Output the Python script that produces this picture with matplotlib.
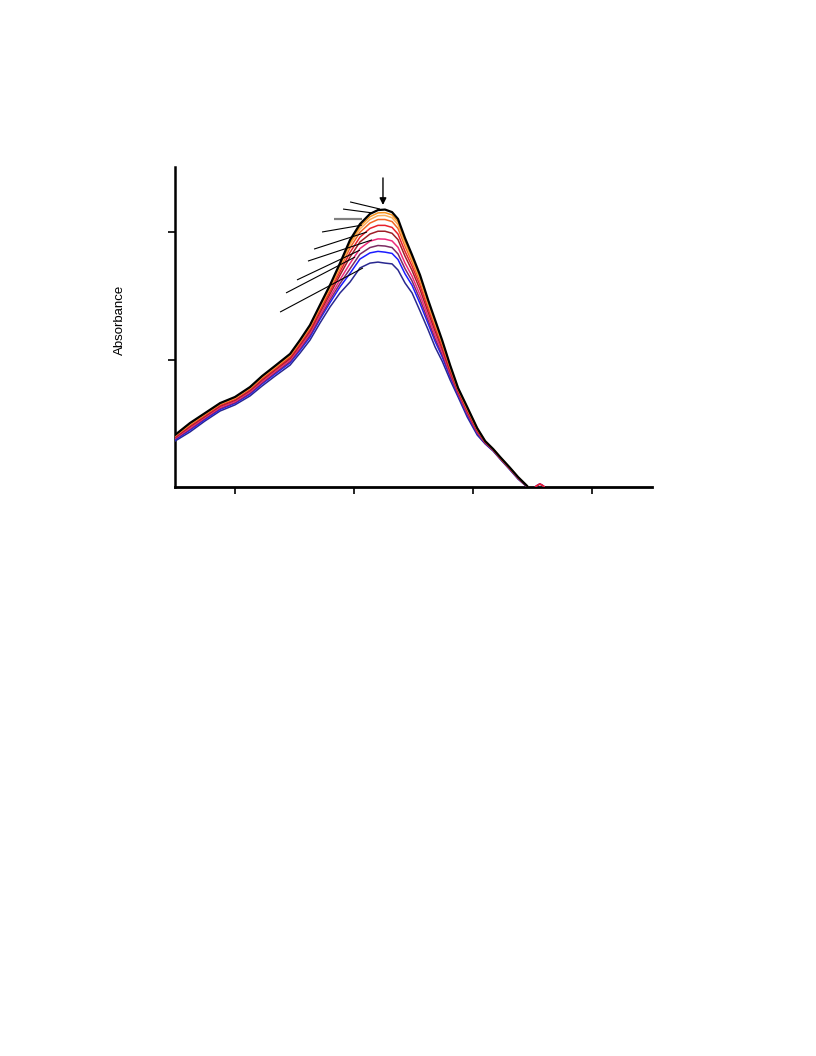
import matplotlib
matplotlib.use("Agg")
import matplotlib.pyplot as plt

# Wavelength grid (nm)
wavelength = [250, 262.6, 275.2, 287.8, 300.3, 312.9, 323.0, 333.9, 346.5, 354.8,
              363.2, 371.6, 380.0, 388.4, 396.8, 405.1, 413.5, 420.2, 426.1, 432.0,
              437.0, 442.9, 448.8, 455.5, 462.3, 468.1, 474.0, 480.7, 487.4, 495.0,
              503.4, 510.1, 516.8, 522.6, 531.0, 537.7, 545.3,
              549, 553, 556, 559, 562]

tail_flat = [-0.02, -0.02, -0.02, -0.02, -0.02]
tail_blip = [-0.02, 0.004, 0.012, 0.004, -0.02]

s_black = [.204, .251, .290, .329, .353, .392, .435, .475, .522, .576, .635, .714, .792, .878, .969,
           1.031, 1.071, 1.086, 1.088, 1.078, 1.051, .976, .910, .831, .733, .655, .576, .478, .388,
           .314, .231, .180, .149, .118, .075, .039, .004] + tail_flat
s_orange = [.203, .249, .288, .328, .351, .390, .433, .472, .519, .574, .632, .710, .787, .872, .959,
            1.022, 1.060, 1.075, 1.076, 1.067, 1.040, .967, .901, .823, .727, .649, .572, .475, .386,
            .312, .230, .180, .149, .117, .074, .039, .004] + tail_flat
s_ltorange = [.201, .247, .287, .326, .349, .388, .431, .470, .517, .571, .629, .706, .783, .865, .951,
              1.012, 1.049, 1.064, 1.065, 1.056, 1.029, .957, .893, .816, .720, .643, .567, .472, .384,
              .309, .228, .179, .148, .117, .074, .038, .003] + tail_flat
s_orred = [.200, .244, .284, .324, .347, .386, .428, .467, .514, .567, .624, .701, .776, .857, .938,
           .999, 1.035, 1.049, 1.049, 1.041, 1.014, .944, .882, .805, .712, .635, .561, .468, .382,
           .306, .226, .178, .148, .116, .073, .038, .003] + tail_flat
s_red = [.197, .241, .281, .320, .344, .382, .424, .463, .509, .561, .618, .693, .767, .844, .920,
         .980, 1.014, 1.026, 1.026, 1.018, .992, .924, .866, .790, .699, .624, .552, .461, .378,
         .302, .223, .177, .147, .115, .072, .037, .003] + tail_blip
s_darkred = [.194, .237, .277, .317, .340, .378, .419, .459, .504, .556, .611, .685, .757, .831, .902,
             .961, .992, 1.003, 1.003, .995, .970, .905, .849, .774, .685, .612, .543, .454, .374,
             .298, .220, .176, .146, .114, .071, .036, .002] + tail_flat
s_pink = [.191, .231, .273, .312, .335, .373, .413, .453, .498, .548, .603, .674, .744, .813, .877,
          .935, .964, .973, .972, .965, .940, .878, .827, .753, .668, .596, .531, .446, .369,
          .292, .216, .174, .145, .113, .070, .035, .002] + tail_blip
s_purple = [.188, .227, .269, .308, .331, .368, .408, .448, .492, .542, .595, .665, .733, .798, .856,
            .913, .939, .947, .945, .939, .914, .856, .808, .735, .653, .582, .520, .438, .364,
            .287, .213, .172, .144, .112, .069, .034, .001] + tail_flat
s_blue = [.185, .223, .265, .304, .328, .364, .404, .443, .487, .536, .588, .658, .723, .785, .838,
          .894, .918, .924, .921, .916, .892, .836, .791, .719, .640, .571, .511, .432, .360,
          .283, .210, .171, .143, .111, .068, .033, .001] + tail_blip
s_navy = [.180, .216, .259, .298, .322, .357, .396, .435, .478, .525, .576, .643, .706, .761, .804,
          .859, .878, .882, .878, .875, .851, .800, .761, .690, .616, .549, .494, .420, .353,
          .275, .204, .169, .141, .110, .067, .031, .000] + tail_blip

series = [s_navy, s_blue, s_purple, s_pink, s_darkred, s_red, s_orred, s_ltorange, s_orange, s_black]
colors = ['#29288f', '#1c1cff', '#7b2b62', '#ee2a7b', '#9e1f27', '#e8202a', '#f26522',
          '#fbae5c', '#f7941d', '#000000']
widths = [1.1, 1.1, 1.1, 1.1, 1.1, 1.1, 1.1, 1.1, 1.1, 1.6]

# Leader lines (start x, start y, end x, end y) in data units
lead_x0 = [396.8, 390.9, 383.3, 373.3, 366.6, 361.5, 352.3, 343.1, 338.1]
lead_y0 = [1.118, 1.090, 1.051, 1.000, 0.933, 0.886, 0.812, 0.761, 0.686]
lead_x1 = [421.9, 415.2, 406.8, 406.8, 411.0, 415.2, 405.1, 401.0, 407.6]
lead_y1 = [1.090, 1.075, 1.051, 1.027, 1.000, 0.969, 0.929, 0.902, 0.859]
lead_colors = ['#000000', '#000000', '#808080', '#000000', '#000000', '#000000',
               '#000000', '#000000', '#000000']
lead_widths = [0.8, 0.8, 1.6, 0.8, 0.8, 0.8, 0.8, 0.8, 0.8]

arrow_x = 424.4
arrow_y_top = 1.212
arrow_y_tip = 1.106

fig = plt.figure(figsize=(8.16, 10.56), dpi=100)
ax = fig.add_axes([175/816, 1 - 487/1056, (652-175)/816, (487-167)/1056])

for s, c, w in zip(series, colors, widths):
    ax.plot(wavelength, s, color=c, lw=w, solid_joinstyle='round', zorder=3)

for x0, y0, x1, y1, c, w in zip(lead_x0, lead_y0, lead_x1, lead_y1, lead_colors, lead_widths):
    ax.plot([x0, x1], [y0, y1], color=c, lw=w, zorder=4, solid_capstyle='butt')

ax.annotate('', xy=(arrow_x, arrow_y_tip), xytext=(arrow_x, arrow_y_top),
            arrowprops=dict(arrowstyle='-|>', color='black', lw=1.0,
                            mutation_scale=10, shrinkA=0, shrinkB=0), zorder=5)

ax.set_xlim(250, 650)
ax.set_ylim(0, 320/255)
ax.set_xticks([300, 400, 500, 600])
ax.set_yticks([0.5, 1.0])
ax.set_xticklabels([])
ax.set_yticklabels([])
ax.tick_params(axis='both', direction='out', length=5, width=1.2, color='black')
for sp in ['top', 'right']:
    ax.spines[sp].set_visible(False)
ax.spines['left'].set_linewidth(1.8)
ax.spines['bottom'].set_linewidth(2.0)

fig.text(120/816, 1 - 320/1056, 'Absorbance', rotation=90, ha='center', va='center',
         fontsize=9.5, family=['Liberation Sans', 'DejaVu Sans'])

fig.savefig('out.png', dpi=100)
